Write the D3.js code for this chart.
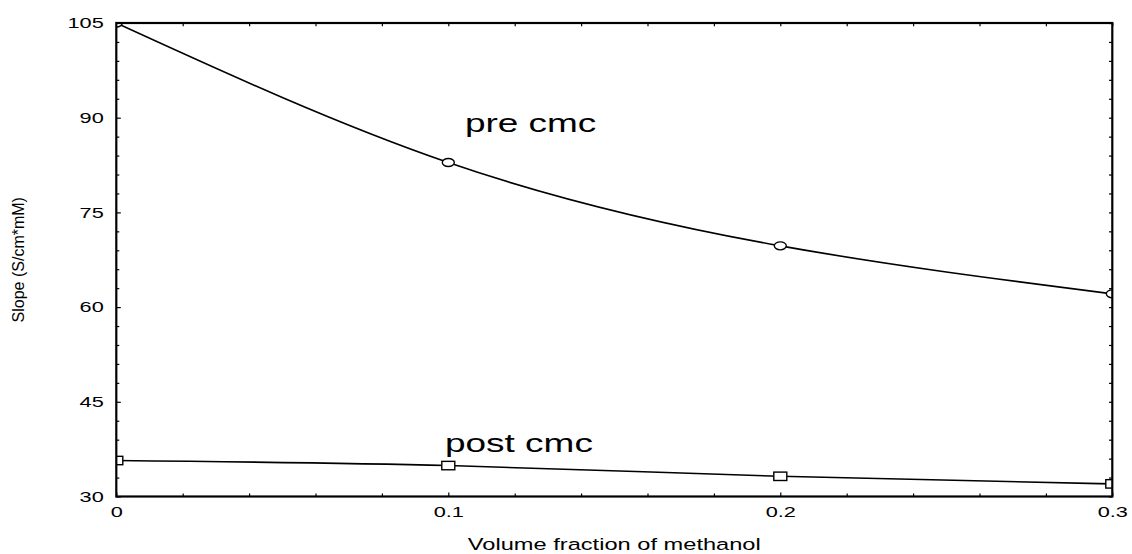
<!DOCTYPE html>
<html>
<head>
<meta charset="utf-8">
<script src="https://cdn.jsdelivr.net/npm/d3@7"></script>
<style>
  html, body { margin: 0; padding: 0; background: #fff; }
  svg { display: block; }
  text { font-family: "Liberation Sans", Arial, Helvetica, sans-serif; fill: #000; }
</style>
</head>
<body>
<svg id="chart" width="1132" height="554"></svg>
<script>
// Volume fraction of methanol (x) and conductivity slopes (y)
const fractions = [0, 0.1, 0.2, 0.3];
const preCmc = [105, 82.9, 69.7, 62.1];
const postCmc = [35.7, 34.9, 33.2, 32.0];

// Axis ticks
const xMajor = [0, 0.1, 0.2, 0.3];
const xMinor = [0.02, 0.04, 0.06, 0.08, 0.12, 0.14, 0.16, 0.18, 0.22, 0.24, 0.26, 0.28];
const yMajor = [30, 45, 60, 75, 90, 105];
const yMinor = [33, 36, 39, 42, 48, 51, 54, 57, 63, 66, 69, 72, 78, 81, 84, 87, 93, 96, 99, 102];

const xLabel = "Volume fraction of methanol";
const yLabel = "Slope (S/cm*mM)";
const seriesLabels = [
  { text: "pre cmc", x: 0.105, y: 87.8 },
  { text: "post cmc", x: 0.099, y: 37.1 }
];

// Plot area
const plotLeft = 116.3, plotRight = 1112.3, plotTop = 23, plotBottom = 496.5;
const SX = 1.45; // horizontal glyph stretch of the text

const svg = d3.select("#chart");

const x = d3.scaleLinear().domain([0, 0.3]).range([plotLeft, plotRight]);
const y = d3.scaleLinear().domain([30, 105]).range([plotBottom, plotTop]);

svg.append("defs").append("clipPath").attr("id", "plotClip")
  .append("rect")
  .attr("x", plotLeft).attr("y", plotTop)
  .attr("width", plotRight - plotLeft).attr("height", plotBottom - plotTop);

function styleAxis(g) {
  g.select(".domain").remove();
  g.selectAll(".tick line").attr("stroke", "#000").attr("stroke-width", 1.2);
}

// Left axis: labelled majors + minors
const gLeft = svg.append("g").attr("transform", `translate(${plotLeft},0)`)
  .call(d3.axisLeft(y).tickValues(yMajor).tickSize(-4.5).tickPadding(0).tickFormat(d3.format("d")));
styleAxis(gLeft);
gLeft.selectAll(".tick text")
  .attr("x", -12.5 / SX)
  .attr("transform", `scale(${SX},1)`)
  .attr("font-size", 15);
svg.append("g").attr("transform", `translate(${plotLeft},0)`)
  .call(d3.axisLeft(y).tickValues(yMinor).tickSize(-3).tickFormat(""))
  .call(styleAxis);

// Right axis ticks
svg.append("g").attr("transform", `translate(${plotRight},0)`)
  .call(d3.axisRight(y).tickValues(yMajor.concat(yMinor)).tickSize(-3.3).tickFormat(""))
  .call(styleAxis);

// Bottom axis
const gBottom = svg.append("g").attr("transform", `translate(0,${plotBottom})`)
  .call(d3.axisBottom(x).tickValues(xMajor).tickSize(-4).tickPadding(0)
    .tickFormat(d => d === 0 ? "0" : d3.format(".1f")(d)));
styleAxis(gBottom);
gBottom.selectAll(".tick text")
  .attr("y", 21).attr("dy", 0)
  .attr("transform", `scale(${SX},1)`)
  .attr("font-size", 15);
svg.append("g").attr("transform", `translate(0,${plotBottom})`)
  .call(d3.axisBottom(x).tickValues(xMinor).tickSize(-3).tickFormat(""))
  .call(styleAxis);

// Top axis ticks
svg.append("g").attr("transform", `translate(0,${plotTop})`)
  .call(d3.axisTop(x).tickValues(xMajor.concat(xMinor)).tickSize(-3.3).tickFormat(""))
  .call(styleAxis);

// Curves and markers
const plot = svg.append("g").attr("clip-path", "url(#plotClip)");
const line = d3.line().x(d => x(d[0])).y(d => y(d[1])).curve(d3.curveNatural);

const pre = fractions.map((f, i) => [f, preCmc[i]]);
const post = fractions.map((f, i) => [f, postCmc[i]]);

plot.append("path").datum(pre).attr("d", line)
  .attr("fill", "none").attr("stroke", "#000").attr("stroke-width", 1.6);
plot.append("path").datum(post).attr("d", line)
  .attr("fill", "none").attr("stroke", "#000").attr("stroke-width", 1.6);

plot.selectAll(".pre-pt").data(pre).enter().append("ellipse")
  .attr("cx", d => x(d[0])).attr("cy", d => y(d[1]))
  .attr("rx", 6).attr("ry", 4)
  .attr("fill", "#fff").attr("stroke", "#000").attr("stroke-width", 1.4);

plot.selectAll(".post-pt").data(post).enter().append("rect")
  .attr("x", d => x(d[0]) - 6.5).attr("y", d => y(d[1]) - 4.2)
  .attr("width", 13).attr("height", 8.4)
  .attr("fill", "#fff").attr("stroke", "#000").attr("stroke-width", 1.4);

// Frame
svg.append("rect")
  .attr("x", plotLeft).attr("y", plotTop)
  .attr("width", plotRight - plotLeft).attr("height", plotBottom - plotTop)
  .attr("fill", "none").attr("stroke", "#000").attr("stroke-width", 2.2);

// Series labels
svg.selectAll(".series-label").data(seriesLabels).enter().append("text")
  .attr("transform", d => `translate(${x(d.x)},${y(d.y)}) scale(${SX},1)`)
  .attr("font-size", 25.5)
  .text(d => d.text);

// Axis titles
svg.append("text")
  .attr("transform", `translate(${(plotLeft + plotRight) / 2},550) scale(${SX},1)`)
  .attr("text-anchor", "middle")
  .attr("font-size", 16.3)
  .text(xLabel);

svg.append("text")
  .attr("transform", `translate(24,${(plotTop + plotBottom) / 2}) rotate(-90)`)
  .attr("text-anchor", "middle")
  .attr("font-size", 16)
  .text(yLabel);
</script>
</body>
</html>
